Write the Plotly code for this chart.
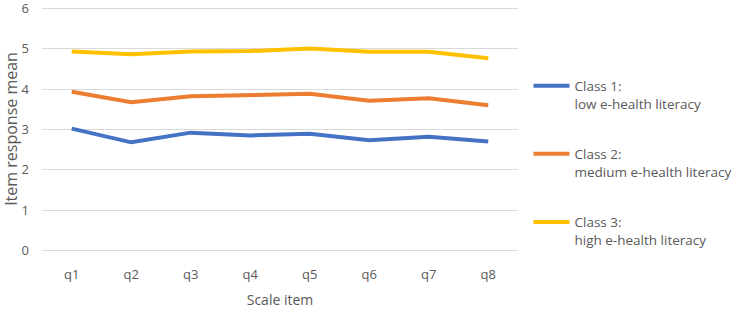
import plotly.graph_objects as go

items = ["q1", "q2", "q3", "q4", "q5", "q6", "q7", "q8"]
class1 = [3.02, 2.68, 2.92, 2.85, 2.89, 2.73, 2.82, 2.70]
class2 = [3.93, 3.67, 3.82, 3.86, 3.88, 3.71, 3.77, 3.60]
class3 = [4.93, 4.86, 4.93, 4.94, 5.00, 4.92, 4.92, 4.76]
names = ["Class 1:<br>low e-health literacy",
         "Class 2:<br>medium e-health literacy",
         "Class 3:<br>high e-health literacy"]
colors = ["#4472C4", "#ED7D31", "#FFC000"]
ytick_vals = [0, 1, 2, 3, 4, 5, 6]

FONT = "Open Sans"
GRAY = "#595959"

fig = go.Figure()
for i, (vals, nm, col) in enumerate(zip([class1, class2, class3], names, colors)):
    fig.add_trace(go.Scatter(
        x=items, y=vals, mode="lines", name=nm, legendgroup=f"g{i}",
        line=dict(color=col, width=4), hoverinfo="skip"))

fig.update_layout(
    width=744, height=309,
    margin=dict(l=42, r=217, t=7, b=58),
    paper_bgcolor="white", plot_bgcolor="white",
    font=dict(family=FONT, color=GRAY, size=13),
    showlegend=True,
    legend=dict(x=1.022, xanchor="left", y=0.74, yanchor="top",
                tracegroupgap=30, valign="top", borderwidth=0,
                font=dict(family=FONT, size=13.5, color=GRAY),
                itemwidth=36, bgcolor="rgba(0,0,0,0)"),
    xaxis=dict(showgrid=False, showline=False, zeroline=False,
               range=[-0.5, 7.5], automargin=False,
               ticks="", ticklabelstandoff=14,
               tickfont=dict(size=13, color=GRAY, family=FONT),
               title=dict(text="Scale item", standoff=17,
                          font=dict(size=14, color=GRAY, family=FONT))),
    yaxis=dict(range=[-0.01, 6.03], tickvals=ytick_vals, showgrid=True,
               automargin=False, ticklabeloverflow="allow",
               gridcolor="#D9D9D9", gridwidth=1,
               zeroline=True, zerolinecolor="#D9D9D9", zerolinewidth=1,
               showline=False, ticks="", ticklabelstandoff=12,
               tickfont=dict(size=13, color=GRAY, family=FONT),
               title=dict(text="Item response mean", standoff=13,
                          font=dict(size=16, color=GRAY, family=FONT))),
)

fig.write_html("out.html", config={"displayModeBar": False},
               post_script="document.body.style.margin='0';")
